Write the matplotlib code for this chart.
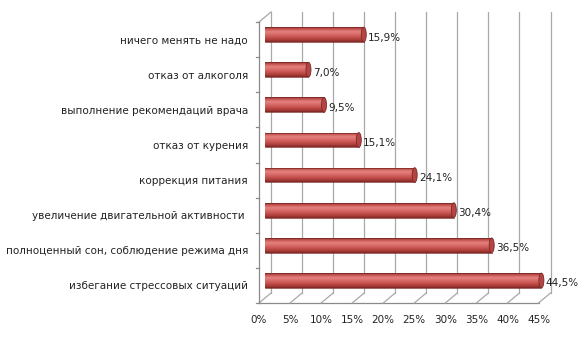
import matplotlib.pyplot as plt
import numpy as np
from matplotlib.patches import Rectangle, Ellipse, Arc
from matplotlib.colors import LinearSegmentedColormap

categories = ['избегание стрессовых ситуаций',
              'полноценный сон, соблюдение режима дня',
              'увеличение двигательной активности ',
              'коррекция питания',
              'отказ от курения',
              'выполнение рекомендаций врача',
              'отказ от алкоголя',
              'ничего менять не надо']
values = [44.5, 36.5, 30.4, 24.1, 15.1, 9.5, 7.0, 15.9]
labels = ['44,5%', '36,5%', '30,4%', '24,1%', '15,1%', '9,5%', '7,0%', '15,9%']
xticks = list(range(0, 50, 5))

W, H = 578, 338
fig = plt.figure(figsize=(W / 100, H / 100), dpi=100)
fig.patch.set_facecolor('white')

# the axes is the middle depth plane of the 3d box (pixel geometry)
left_px, right_px, top_px, bot_px = 265, 544.5, 17, 298
ax = fig.add_axes([left_px / W, 1 - bot_px / H,
                   (right_px - left_px) / W, (bot_px - top_px) / H])
ax.axis('off')
xmax = 45
n = len(categories)
ymin, ymax = -0.5, n - 0.5

# pixel -> data unit helpers
px_x = xmax / (right_px - left_px)
px_y = (ymax - ymin) / (bot_px - top_px)
DX, DY = 6 * px_x, 5 * px_y   # half depth offset

grid_c = '#a8a8a8'
axis_c = '#8a8a8a'

# back wall gridlines
for v in xticks:
    ax.plot([v + DX, v + DX], [ymin + DY, ymax + DY], color=grid_c, lw=0.9,
            clip_on=False, zorder=1)

# floor: front edge and depth lines
ax.plot([-DX, xmax - DX], [ymin - DY, ymin - DY], color=axis_c, lw=0.9,
        clip_on=False, zorder=1)
for v in xticks:
    ax.plot([v - DX, v + DX], [ymin - DY, ymin + DY], color=grid_c, lw=0.9,
            clip_on=False, zorder=1)
    ax.text(v - DX, ymin - DY - 17 * px_y, f'{v}%', ha='center', va='center',
            fontsize=7.5, color='#222222')

# side wall: front edge, top depth line and ticks
ax.plot([-DX, -DX], [ymin - DY, ymax - DY], color=axis_c, lw=0.9,
        clip_on=False, zorder=1)
ax.plot([-DX, DX], [ymax - DY, ymax + DY], color=grid_c, lw=0.9,
        clip_on=False, zorder=1)
for k in range(n + 1):
    yk = ymin + k - DY
    ax.plot([-DX - 3 * px_x, -DX], [yk, yk], color=axis_c, lw=0.9,
            clip_on=False, zorder=1)

# cylinder shading, top to bottom
shade = LinearSegmentedColormap.from_list('cyl', [
    (0.0, '#8e2f2d'), (0.12, '#c4514e'), (0.3, '#e3827f'),
    (0.45, '#dc706d'), (0.7, '#c44f4c'), (0.9, '#a13734'), (1.0, '#7c2523')])
grad = shade(np.linspace(0, 1, 64))[:, None, :3]

h = 0.42
capw = 5 * px_x
edge_c = '#7a2826'
for i, (val, lab) in enumerate(zip(values, labels)):
    y0, y1 = i - h / 2, i + h / 2
    body = Rectangle((0, y0), val, h, transform=ax.transData)
    end = Ellipse((0, i), capw, h, transform=ax.transData)
    for clip, x0, x1 in [(body, 0, val), (end, -capw / 2, capw / 2)]:
        im = ax.imshow(grad, extent=[x0, x1, y0, y1], aspect='auto',
                       origin='upper', interpolation='bilinear', zorder=3)
        im.set_clip_path(clip)
    # rounded far end, outline of the visible half only
    ax.add_patch(Arc((0, i), capw, h, theta1=90, theta2=270, color=edge_c,
                     lw=0.5, zorder=3.5))
    ax.plot([0, val], [y0, y0], color=edge_c, lw=0.5, zorder=3.5)
    ax.plot([0, val], [y1, y1], color=edge_c, lw=0.5, zorder=3.5)
    ax.add_patch(Ellipse((val, i), capw, h, facecolor='#b44543',
                         edgecolor=edge_c, lw=0.6, zorder=4))
    ax.text(val + capw / 2 + 2 * px_x, i - 3 * px_y, lab, ha='left',
            va='center', fontsize=7.5, color='#222222')
    ax.text(-DX - 11 * px_x, i - DY - 1 * px_y, categories[i], ha='right',
            va='center', fontsize=7.5, color='#222222')

ax.set_xlim(0, xmax)
ax.set_ylim(ymin, ymax)

fig.savefig('out.png', dpi=100)
